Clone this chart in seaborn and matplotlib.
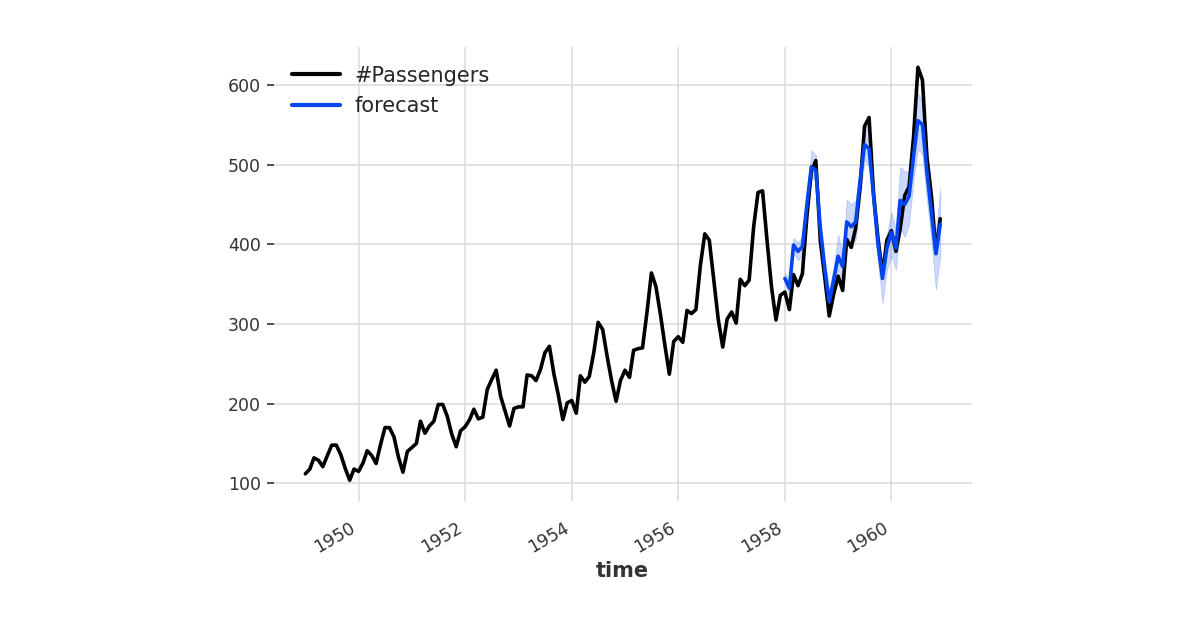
import pandas as pd
import matplotlib
matplotlib.use('Agg')
import matplotlib.pyplot as plt
import seaborn as sns
import numpy as np

# Monthly airline passengers, 1949-1960
passengers = [
    112, 118, 132, 129, 121, 135, 148, 148, 136, 119, 104, 118,
    115, 126, 141, 135, 125, 149, 170, 170, 158, 133, 114, 140,
    145, 150, 178, 163, 172, 178, 199, 199, 184, 162, 146, 166,
    171, 180, 193, 181, 183, 218, 230, 242, 209, 191, 172, 194,
    196, 196, 236, 235, 229, 243, 264, 272, 237, 211, 180, 201,
    204, 188, 235, 227, 234, 264, 302, 293, 259, 229, 203, 229,
    242, 233, 267, 269, 270, 315, 364, 347, 312, 274, 237, 278,
    284, 277, 317, 313, 318, 374, 413, 405, 355, 306, 271, 306,
    315, 301, 356, 348, 355, 422, 465, 467, 404, 347, 305, 336,
    340, 318, 362, 348, 363, 435, 491, 505, 404, 359, 310, 337,
    360, 342, 406, 396, 420, 472, 548, 559, 463, 407, 362, 405,
    417, 391, 419, 461, 472, 535, 622, 606, 508, 461, 390, 432,
]

# Forecast 1958-1960 (median and quantile band)
forecast = [
    357, 345, 399, 391, 397, 450, 497, 493, 420, 370, 328, 355,
    385, 372, 428, 422, 428, 480, 525, 520, 460, 400, 357, 395,
    415, 395, 455, 450, 460, 510, 555, 550, 490, 440, 388, 425,
]
forecast_low = [
    350, 337, 388, 380, 386, 438, 484, 478, 405, 356, 315, 340,
    368, 352, 410, 402, 405, 460, 505, 498, 440, 378, 326, 368,
    385, 368, 420, 409, 425, 480, 520, 512, 455, 405, 343, 385,
]
forecast_high = [
    364, 355, 408, 402, 410, 462, 518, 512, 432, 384, 342, 372,
    412, 388, 456, 450, 455, 505, 552, 545, 480, 420, 375, 412,
    440, 420, 497, 492, 490, 535, 590, 578, 520, 475, 415, 470,
]

dates = pd.date_range('1949-01-01', periods=len(passengers), freq='MS')
fc_dates = pd.date_range('1958-01-01', periods=len(forecast), freq='MS')

actual_df = pd.DataFrame({'time': dates, 'value': passengers})
fc_df = pd.DataFrame({'time': fc_dates, 'value': forecast,
                      'low': forecast_low, 'high': forecast_high})

sns.set_style('whitegrid')
plt.rcParams['font.family'] = ['DejaVu Sans']

fig = plt.figure(figsize=(12, 6.3), dpi=100)
ax = fig.add_axes([0.228, 0.205, 0.582, 0.721])

blue = '#0545f0'
sns.lineplot(data=actual_df, x='time', y='value', ax=ax, color='black',
             linewidth=2.6, label='#Passengers')
sns.lineplot(data=fc_df, x='time', y='value', ax=ax, color=blue,
             linewidth=2.6, label='forecast')
ax.fill_between(fc_df['time'], fc_df['low'], fc_df['high'],
                facecolor=blue, alpha=0.2, edgecolor=blue, linewidth=0.6)

for s in ax.spines.values():
    s.set_visible(False)
ax.grid(True, color='#dddddd', linewidth=1.2)
ax.set_axisbelow(True)

ax.set_ylabel('')
ax.set_xlabel('time', fontsize=15, fontweight='bold', color='#333333', labelpad=3)
ax.set_yticks([100, 200, 300, 400, 500, 600])
ax.tick_params(axis='y', length=5, width=1.2, color='#333333',
               labelsize=12.5, labelcolor='#333333', pad=4, left=True)
ax.tick_params(axis='x', length=0, labelsize=12.5, labelcolor='#333333', pad=13)

years = pd.to_datetime(['1950-01-01', '1952-01-01', '1954-01-01',
                        '1956-01-01', '1958-01-01', '1960-01-01'])
ax.set_xticks(years)
ax.set_xticklabels([str(y.year) for y in years], rotation=30, ha='right')

leg = ax.legend(loc='upper left', frameon=False, fontsize=15,
                handlelength=2.3, handletextpad=0.7, borderaxespad=0.3,
                bbox_to_anchor=(0.005, 0.99))
for line in leg.get_lines():
    line.set_linewidth(3)

fig.savefig('out.png', dpi=100)
